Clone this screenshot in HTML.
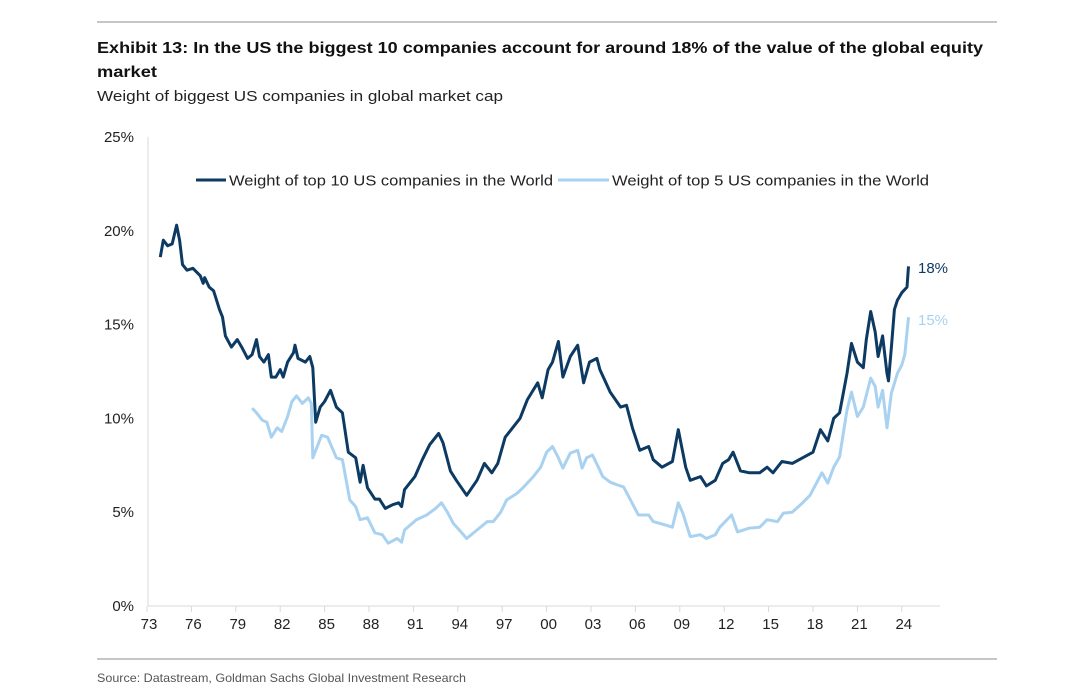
<!DOCTYPE html>
<html><head><meta charset="utf-8"><style>
body{margin:0;background:#fff;}
svg{display:block;font-family:"Liberation Sans",Arial,sans-serif;}
</style></head><body>
<svg id="chart" width="1080" height="694" viewBox="0 0 1080 694">
<line x1="97" y1="22" x2="997" y2="22" stroke="#8c8c8c" stroke-width="1"/>
<text x="97" y="53" font-size="16" font-weight="bold" fill="#111" textLength="886" lengthAdjust="spacingAndGlyphs">Exhibit 13: In the US the biggest 10 companies account for around 18% of the value of the global equity</text>
<text x="97" y="77" font-size="16" font-weight="bold" fill="#111" textLength="60" lengthAdjust="spacingAndGlyphs">market</text>
<text x="97" y="101" font-size="15" fill="#222" textLength="406" lengthAdjust="spacingAndGlyphs">Weight of biggest US companies in global market cap</text>
<g id="axes"></g>
<g id="series"></g>
<g>
<line x1="196" y1="180" x2="226" y2="180" stroke="#0d3a63" stroke-width="3"/>
<text x="229" y="185.5" font-size="15" fill="#222" textLength="324" lengthAdjust="spacingAndGlyphs">Weight of top 10 US companies in the World</text>
<line x1="558" y1="180" x2="609" y2="180" stroke="#a9d2f0" stroke-width="3"/>
<text x="612" y="185.5" font-size="15" fill="#222" textLength="317" lengthAdjust="spacingAndGlyphs">Weight of top 5 US companies in the World</text>
</g>
<text x="918" y="273" font-size="15" fill="#0d3a63">18%</text>
<text x="918" y="325" font-size="15" fill="#a9d2f0">15%</text>
<line x1="97" y1="659" x2="997" y2="659" stroke="#8c8c8c" stroke-width="1"/>
<text x="97" y="682" font-size="12" fill="#555" textLength="369" lengthAdjust="spacingAndGlyphs">Source: Datastream, Goldman Sachs Global Investment Research</text>
</svg>
<script>
const yTicks=[0,5,10,15,20,25];
const xTickYears=[1973,1976,1979,1982,1985,1988,1991,1994,1997,2000,2003,2006,2009,2012,2015,2018,2021,2024];
const xTickLabels=["73","76","79","82","85","88","91","94","97","00","03","06","09","12","15","18","21","24"];
const top10Years=[73.9,74.1,74.4,74.7,75.0,75.2,75.4,75.7,76.1,76.6,76.8,76.9,77.2,77.5,77.9,78.1,78.3,78.7,79.1,79.4,79.8,80.1,80.4,80.6,80.9,81.2,81.4,81.7,82.0,82.2,82.5,82.9,83.0,83.2,83.7,84.0,84.2,84.4,84.7,85.0,85.4,85.8,86.2,86.6,87.1,87.4,87.6,87.9,88.4,88.7,89.1,89.6,90.0,90.2,90.4,91.1,91.6,92.1,92.7,93.0,93.5,93.9,94.6,95.3,95.8,96.3,96.7,97.2,97.7,98.2,98.7,99.4,99.7,100.1,100.4,100.8,101.1,101.6,102.1,102.5,102.9,103.4,103.6,104.3,105.0,105.4,105.8,106.3,106.9,107.2,107.8,108.5,108.9,109.4,109.7,110.4,110.8,111.4,111.9,112.3,112.6,113.1,113.7,114.4,114.9,115.3,115.9,116.6,117.3,118.0,118.5,119.0,119.4,119.8,120.3,120.6,121.0,121.4,121.6,121.9,122.2,122.4,122.7,123.0,123.1,123.3,123.5,123.7,124.0,124.35,124.45];
const top10Values=[18.6,19.5,19.2,19.3,20.3,19.5,18.2,17.9,18.0,17.6,17.2,17.5,17.0,16.8,15.8,15.4,14.4,13.8,14.2,13.8,13.2,13.4,14.2,13.3,13.0,13.4,12.2,12.2,12.6,12.2,13.0,13.5,13.9,13.2,13.0,13.3,12.7,9.8,10.6,10.9,11.5,10.6,10.3,8.2,7.9,6.6,7.5,6.3,5.7,5.7,5.2,5.4,5.5,5.3,6.2,6.9,7.8,8.6,9.2,8.7,7.2,6.7,5.9,6.7,7.6,7.1,7.6,9.0,9.5,10.0,11.0,11.9,11.1,12.6,13.0,14.1,12.2,13.3,13.9,11.9,13.0,13.2,12.6,11.4,10.6,10.7,9.5,8.3,8.5,7.8,7.4,7.7,9.4,7.4,6.7,6.9,6.4,6.7,7.6,7.8,8.2,7.2,7.1,7.1,7.4,7.1,7.7,7.6,7.9,8.2,9.4,8.8,10.0,10.3,12.4,14.0,13.0,12.7,14.2,15.7,14.6,13.3,14.4,12.4,12.0,13.8,15.8,16.3,16.7,17.0,18.1];
const top5Years=[80.1,80.4,80.8,81.1,81.4,81.8,82.1,82.5,82.8,83.1,83.5,83.9,84.1,84.2,84.8,85.2,85.8,86.2,86.7,87.1,87.4,87.9,88.4,88.9,89.3,89.9,90.2,90.4,91.2,91.9,92.5,92.9,93.3,93.7,94.1,94.6,95.3,96.0,96.4,96.9,97.3,98.0,98.4,99.1,99.6,100.0,100.4,100.8,101.1,101.6,102.1,102.4,102.7,103.1,103.5,103.8,104.3,104.8,105.2,105.6,106.2,106.9,107.2,108.1,108.5,108.9,109.2,109.7,110.4,110.8,111.4,111.7,112.5,112.9,113.7,114.4,114.9,115.6,116.0,116.6,117.3,117.8,118.6,119.0,119.4,119.8,120.3,120.6,121.0,121.4,121.9,122.2,122.4,122.7,123.0,123.3,123.7,124.0,124.2,124.45];
const top5Values=[10.55,10.3,9.9,9.8,9.0,9.5,9.3,10.1,10.9,11.2,10.8,11.1,10.8,7.9,9.1,9.0,7.9,7.8,5.65,5.3,4.6,4.7,3.9,3.8,3.35,3.6,3.4,4.05,4.6,4.85,5.2,5.5,5.0,4.4,4.05,3.6,4.05,4.5,4.5,5.0,5.65,6.0,6.3,6.9,7.4,8.2,8.5,7.9,7.35,8.15,8.3,7.35,7.9,8.05,7.4,6.9,6.6,6.45,6.35,5.75,4.85,4.85,4.5,4.3,4.2,5.5,4.95,3.7,3.8,3.6,3.8,4.2,4.85,3.95,4.15,4.2,4.6,4.5,4.95,5.0,5.5,5.9,7.1,6.55,7.4,7.95,10.45,11.4,10.1,10.6,12.15,11.7,10.6,11.5,9.5,11.35,12.4,12.85,13.4,15.4];

const NS='http://www.w3.org/2000/svg';
function xs(year){return 147+(year-1973)*14.8;}
function ys(v){return 606-v*18.76;}
function mk(tag,attrs,parent){const e=document.createElementNS(NS,tag);for(const k in attrs)e.setAttribute(k,attrs[k]);parent.appendChild(e);return e;}
const axes=document.getElementById('axes');
const yl=mk('line',{x1:148,y1:137,x2:148,y2:606,stroke:'#d9d9d9','stroke-width':1},axes);


const xl=mk('line',{x1:148,y1:606,x2:940,y2:606,stroke:'#d9d9d9','stroke-width':1},axes);


yTicks.forEach(v=>{
  const t=mk('text',{x:134,y:ys(v)+5,'font-size':15,fill:'#222','text-anchor':'end'},axes);
  t.textContent=v+'%';
  
  
});
xTickYears.forEach((yr,i)=>{
  const tk=mk('line',{x1:xs(yr),y1:606,x2:xs(yr),y2:612,stroke:'#d9d9d9','stroke-width':1},axes);
  
  
  const t=mk('text',{x:xs(yr)+2,y:629,'font-size':15,fill:'#222','text-anchor':'middle'},axes);
  t.textContent=xTickLabels[i];
  
  
});
const series=document.getElementById('series');
function path(yrs,vals){return yrs.map((y,i)=>(i?'L':'M')+xs(1900+y).toFixed(1)+','+ys(vals[i]).toFixed(1)).join(' ');}
const p5=mk('path',{d:path(top5Years,top5Values),fill:'none',stroke:'#a9d2f0','stroke-width':3,'stroke-linejoin':'round'},series);


const p10=mk('path',{d:path(top10Years,top10Values),fill:'none',stroke:'#0d3a63','stroke-width':3,'stroke-linejoin':'round'},series);


</script>
</body></html>
